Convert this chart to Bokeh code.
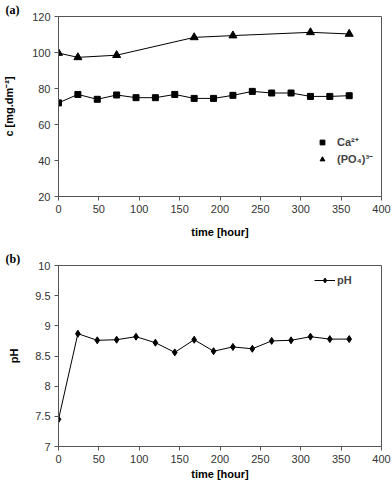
from bokeh.plotting import figure
from bokeh.layouts import column
from bokeh.models import Range1d, FixedTicker, Legend, LegendItem
from bokeh.embed import file_html
from bokeh.resources import INLINE

# ---- data ----
time_ca = [0, 24, 48, 72, 96, 120, 144, 168, 192, 216, 240, 264, 288, 312, 336, 360]
ca = [72.0, 76.7, 74.0, 76.4, 74.9, 74.9, 76.7, 74.5, 74.5, 76.2, 78.4, 77.5, 77.5, 75.6, 75.6, 76.0]
time_po4 = [0, 24, 72, 168, 216, 312, 360]
po4 = [99.7, 97.3, 98.5, 108.4, 109.4, 111.2, 110.3]
time_ph = [0, 24, 48, 72, 96, 120, 144, 168, 192, 216, 240, 264, 288, 312, 336, 360]
ph = [7.45, 8.87, 8.76, 8.77, 8.82, 8.72, 8.56, 8.77, 8.58, 8.65, 8.62, 8.75, 8.76, 8.82, 8.78, 8.78]

x_ticks = [0, 50, 100, 150, 200, 250, 300, 350, 400]
c_ticks = [20, 40, 60, 80, 100, 120]
ph_ticks = [7, 7.5, 8, 8.5, 9, 9.5, 10]
ph_tick_labels = ["7", "7.5", "8", "8.5", "9", "9.5", "10"]

FONT = "Liberation Sans"


def style(p, yticks, ylabel, ylabel_standoff, xlabel_standoff, panel_label):
    p.xgrid.visible = False
    p.ygrid.visible = False
    p.outline_line_color = "#555555"
    p.outline_line_width = 1
    p.background_fill_color = "white"
    p.border_fill_color = "white"
    for ax in (p.xaxis[0], p.yaxis[0]):
        ax.axis_line_color = "#555555"
        ax.major_tick_line_color = "#555555"
        ax.major_tick_out = 4
        ax.major_tick_in = 0
        ax.minor_tick_line_color = None
        ax.major_label_text_font = FONT
        ax.major_label_text_font_size = "11px"
        ax.major_label_text_color = "#333333"
        ax.major_label_standoff = 4
        ax.axis_label_text_font = FONT
        ax.axis_label_text_font_size = "11px"
        ax.axis_label_text_font_style = "bold"
        ax.axis_label_text_color = "black"
    p.xaxis.ticker = FixedTicker(ticks=x_ticks)
    p.yaxis.ticker = FixedTicker(ticks=yticks)
    p.xaxis.axis_label = "time [hour]"
    p.xaxis.axis_label_standoff = xlabel_standoff
    p.yaxis.axis_label = ylabel
    p.yaxis.axis_label_standoff = ylabel_standoff
    p.title.text = panel_label
    p.title.align = "left"
    p.title.offset = -53
    p.title.standoff = 0
    p.title.text_font = "Liberation Serif"
    p.title.text_font_style = "bold"
    p.title.text_font_size = "12px"
    p.title.text_color = "black"


# ---- panel (a) ----
p1 = figure(width=392, height=240, output_backend="svg", toolbar_location=None,
            x_range=Range1d(0, 400), y_range=Range1d(20, 120),
            min_border_left=58, min_border_right=11, min_border_top=13, min_border_bottom=43)
style(p1, c_ticks, "c [mg.dm\u207b\u00b2]", 14, 10, "(a)")

p1.line(time_ca, ca, line_color="black", line_width=1)
r_ca = p1.scatter(time_ca, ca, marker="square", size=6, fill_color="black", line_color="black")
p1.line(time_po4, po4, line_color="black", line_width=1)
r_po4 = p1.scatter(time_po4, po4, marker="triangle", size=8, fill_color="black", line_color="black")

leg1 = Legend(items=[LegendItem(label="Ca\u00b2\u207a", renderers=[r_ca]),
                     LegendItem(label="(PO\u2084)\u00b3\u207b", renderers=[r_po4])],
              location=(256, 30), glyph_width=16, glyph_height=12, label_height=12,
              label_standoff=7, spacing=2, padding=0, margin=0,
              border_line_color=None, background_fill_alpha=0,
              label_text_font=FONT, label_text_font_size="11px", label_text_font_style="bold")
p1.add_layout(leg1)

# ---- panel (b) ----
p2 = figure(width=392, height=243, output_backend="svg", toolbar_location=None,
            x_range=Range1d(0, 400), y_range=Range1d(7, 10),
            min_border_left=58, min_border_right=11, min_border_top=25, min_border_bottom=37)
style(p2, ph_ticks, "pH", 12, 2, "(b)")
p2.yaxis.major_label_overrides = {t: s for t, s in zip(ph_ticks, ph_tick_labels)}

r_phl = p2.line(time_ph, ph, line_color="black", line_width=1)
r_phs = p2.scatter(time_ph, ph, marker="diamond", size=7, fill_color="black", line_color="black")
leg2 = Legend(items=[LegendItem(label="pH", renderers=[r_phl, r_phs])],
              location=(256, 160), glyph_width=21, glyph_height=12, label_height=12,
              label_standoff=2, spacing=2, padding=0, margin=0,
              border_line_color=None, background_fill_alpha=0,
              label_text_font=FONT, label_text_font_size="11px", label_text_font_style="bold")
p2.add_layout(leg2)

layout = column(p1, p2, spacing=0)
open("out.html", "w").write(file_html(layout, INLINE))
